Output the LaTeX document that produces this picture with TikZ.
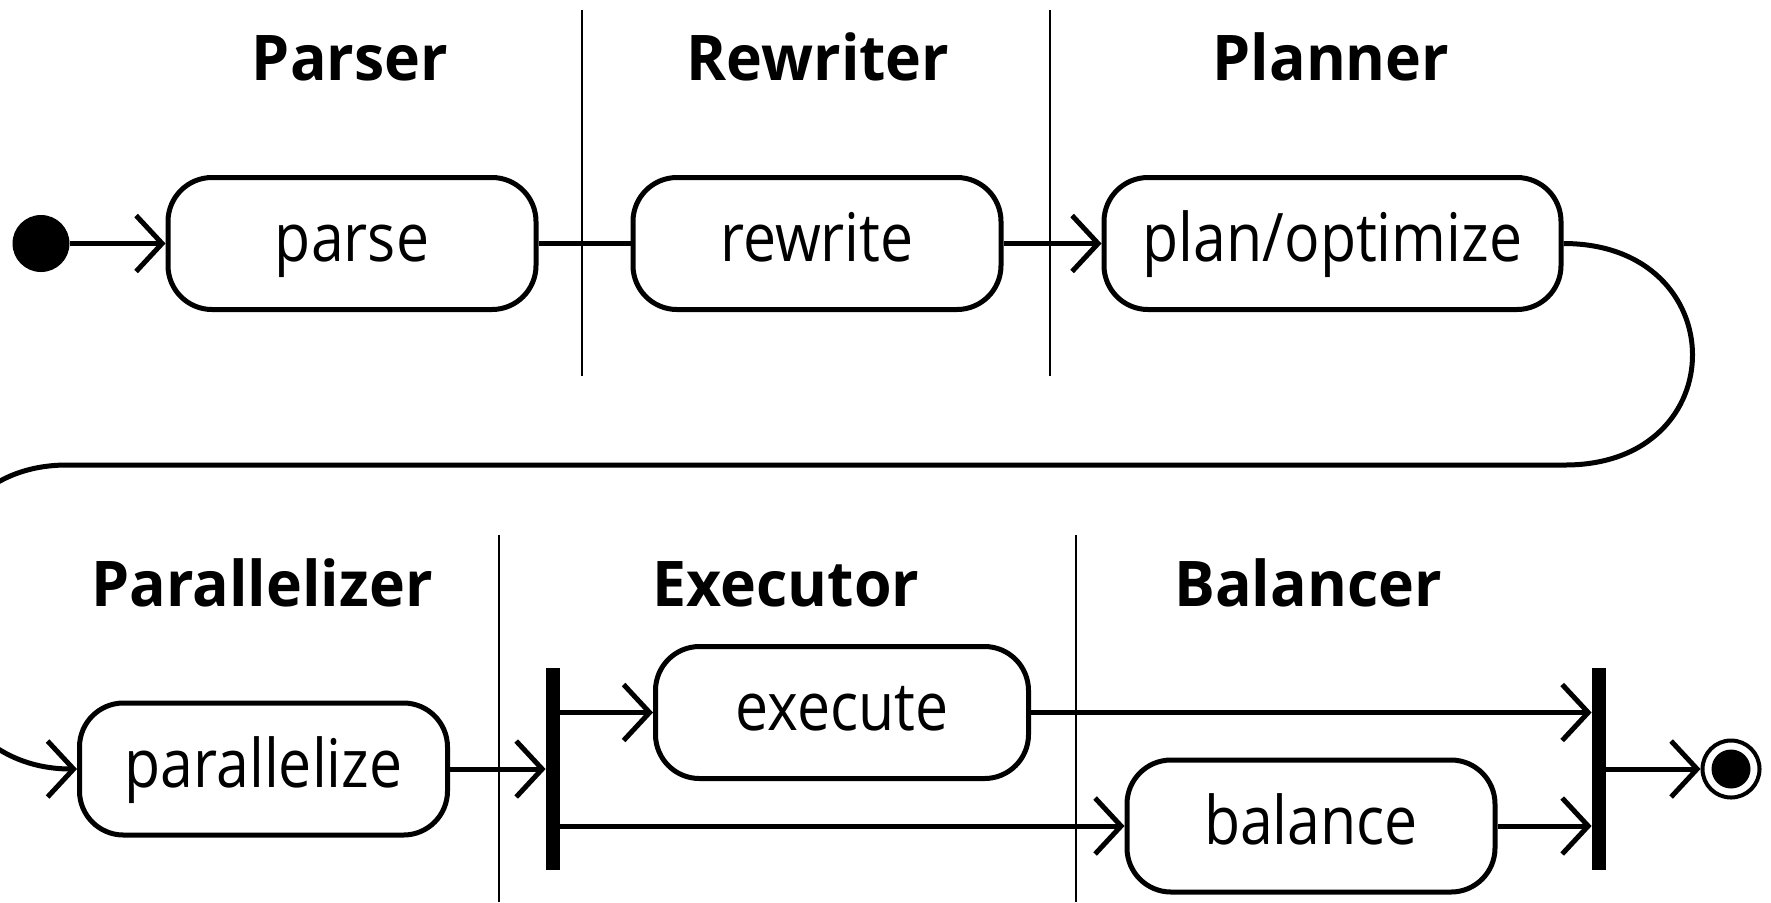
\documentclass[tikz,border=0pt]{standalone}
\usepackage{fontspec}
\usepackage{tikz}
\usetikzlibrary{arrows.meta}
\usetikzlibrary{positioning}
\newfontfamily\boxfont{Open Sans}[FakeStretch=0.88]
\newfontfamily\lanefont{Open Sans}[FakeStretch=0.965]
\tikzset{
  myarrow/.style={
    draw=black,
    line width=2.5pt,
    -{Straight Barb[length=13pt,width=28pt]},
  },
  myline/.style={
    draw=black,
    line width=2.5pt,
  },
  mylane/.style={
    draw=black,
    line width=1pt,
  },
  myactivity/.style={
    draw=black,
    shape=rectangle,
    line width=2.5pt,
    rounded corners=22pt,
    align=center,
    inner sep=0pt,
    minimum width=184pt,
    minimum height=66pt,
    text height=18pt,
    text depth=0pt,
    font=\boxfont\fontsize{33.5pt}{40pt}\selectfont
  },
  myheader/.style={
    anchor=base,
    inner sep=0pt,
    font=\lanefont\bfseries\fontsize{31.5pt}{38pt}\selectfont
  },
  mybar/.style={
    fill=black,
    shape=rectangle,
    inner sep=0pt,
    minimum width=7pt,
    minimum height=101pt,
  },
  mystart/.style={
    fill=black,
    shape=circle,
    inner sep=0pt,
    minimum size=28.5pt,
  },
  myend/.style={
    draw=black,
    shape=circle,
    line width=2pt,
    inner sep=0pt,
    minimum size=28.5pt,
    path picture={\fill[black] (path picture bounding box.center) circle (9.75pt);},
  },
}

\begin{document}
\begin{tikzpicture}[x=0.5pt,y=-0.5pt]
    \useasboundingbox (0,0) rectangle (1771,902);

    % swimlanes
    \node[myheader] (parserlane) at (350,80) {Parser};
    \node[myheader] (rewriterlane) at (818,80) {Rewriter};
    \node[myheader] (plannerlane) at (1331,80) {Planner};
    \node[myheader] (parallelizerlane) at (262,606) {Parallelizer};
    \node[myheader] (executorlane) at (786,606) {Executor};
    \node[myheader] (balancerlane) at (1308,606) {Balancer};

    \draw[mylane] (581.5,10) -- (581.5,376);
    \draw[mylane] (1050,10) -- (1050,376);
    \draw[mylane] (498.5,535) -- (498.5,902);
    \draw[mylane] (1076,535) -- (1076,902);

    % first row
    \node[mystart] (start) at (41,243.5) {};
    \node[myactivity] (parse) at (352,243.5) {parse};
    \node[myactivity] (rewrite) [right=46pt of parse] {rewrite};
    \node[myactivity, minimum width=228.5pt] (plan) at (1332.5,243.5) {plan/optimize};

    % second row
    \node[myactivity] (parallelize) at (263.5,769) {parallelize};
    \node[mybar] (fork) at (553,769) {};
    \node[myactivity, minimum width=186.5pt] (execute) at (842,712.5) {execute};
    \node[myactivity] (balance) at (1311,826) {balance};
    \node[mybar] (join) at (1599,769) {};
    \node[myend] (final) at (1731,769) {};

    \coordinate (bendright) at (1565,465);
    \coordinate (bendleft) at (67,465);

    \draw[myarrow] (start) -- (parse);
    \draw[myline] (parse) -- (rewrite);
    \draw[myarrow] (rewrite) -- (plan);
    \draw[myarrow] (plan.east) .. controls +(171,0) and +(171,0) .. (bendright) -- (bendleft) .. controls +(-188,0) and +(-188,0) .. (parallelize.west);

    \draw[myarrow] (parallelize) -- (fork);
    \draw[myarrow] (fork.east |- execute) -- (execute);
    \draw[myarrow] (fork.east |- balance) -- (balance);
    \draw[myarrow] (execute) -- (join.west |- execute);
    \draw[myarrow] (balance) -- (join.west |- balance);
    \draw[myarrow] (join) -- (final);
\end{tikzpicture}
\end{document}
